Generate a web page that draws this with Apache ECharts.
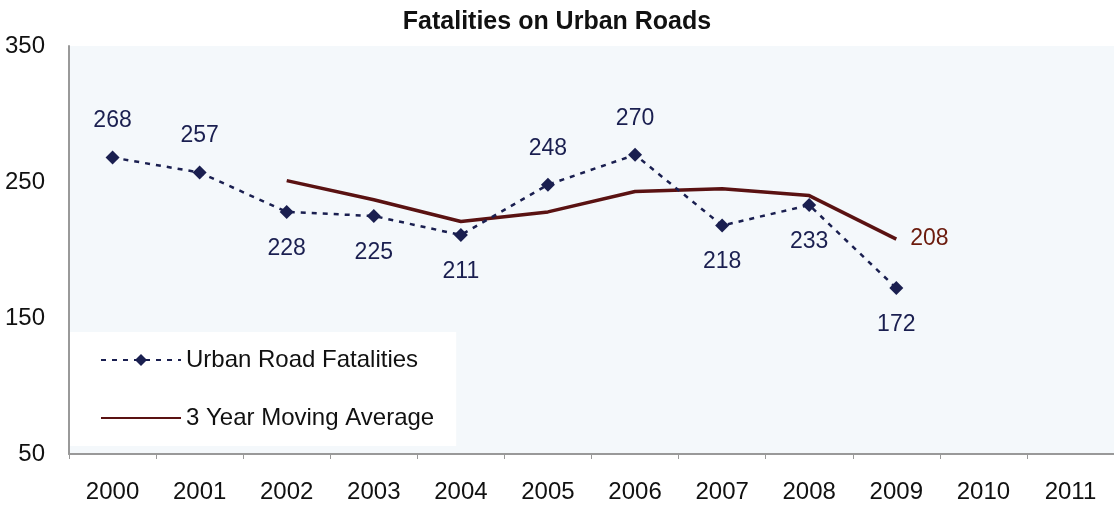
<!DOCTYPE html>
<html>
<head>
<meta charset="utf-8">
<script src="https://cdn.jsdelivr.net/npm/echarts@6/dist/echarts.min.js"></script>
<style>html,body{margin:0;padding:0;background:#fff;}#c{width:1114px;height:506px;}</style>
</head>
<body>
<div id="c"></div>
<script>
const years = ['2000','2001','2002','2003','2004','2005','2006','2007','2008','2009','2010','2011'];
const fatalities = [268, 257, 228, 225, 211, 248, 270, 218, 233, 172, null, null];
const movingAvg = [null, null, 251, 237, 221, 228, 243, 245, 240, 208, null, null];
const labelAbove = ['2000','2001','2005','2006'];
const yTicks = [50, 150, 250, 350];

const chart = echarts.init(document.getElementById('c'));
const navy = '#1a1f50';
const maroon = '#5a1212';
const fatalData = fatalities.map((v, i) => ({
  value: v,
  label: { position: labelAbove.includes(years[i]) ? 'top' : 'bottom' }
}));
const lastAvgIdx = movingAvg.reduce((a, v, i) => v != null ? i : a, -1);
chart.setOption({
  animation: false,
  backgroundColor: '#fff',
  title: {
    text: 'Fatalities on Urban Roads',
    left: 'center', top: 5,
    textStyle: { fontFamily: 'Liberation Sans', fontWeight: 'bold', fontSize: 25, color: '#111' }
  },
  grid: {
    left: 69, top: 46, width: 1056, bottom: 52,
    show: true, backgroundColor: '#f4f8fb', borderWidth: 0
  },
  legend: {
    orient: 'vertical', left: 70, top: 332,
    backgroundColor: '#ffffff',
    padding: [16, 22, 16, 30],
    itemWidth: 80, itemHeight: 15, itemGap: 34,
    textStyle: { fontFamily: 'Liberation Sans', fontSize: 24, color: '#111' },
    data: [
      { name: 'Urban Road Fatalities' },
      { name: '3 Year Moving Average', itemStyle: { color: 'rgba(0,0,0,0)', borderWidth: 0 } }
    ]
  },
  xAxis: {
    type: 'category', data: years, boundaryGap: true,
    axisLine: { lineStyle: { color: '#999', width: 2 } },
    axisTick: { show: true, length: 5, lineStyle: { color: '#999' } },
    axisLabel: { fontFamily: 'Liberation Sans', fontSize: 24, color: '#111', margin: 26 },
    splitLine: { show: false }
  },
  yAxis: {
    type: 'value', min: 50, max: 350, interval: 100,
    axisLine: { show: true, lineStyle: { color: '#999', width: 2 } },
    axisTick: { show: false },
    axisLabel: { fontFamily: 'Liberation Sans', fontSize: 24, color: '#111', margin: 24,
      formatter: v => yTicks.includes(v) ? String(v) : '' },
    splitLine: { show: false }
  },
  series: [
    {
      name: 'Urban Road Fatalities', type: 'line', data: fatalData,
      symbol: 'diamond', symbolSize: 14,
      itemStyle: { color: navy },
      lineStyle: { color: navy, width: 2.5, type: [5, 6] },
      label: { show: true, fontFamily: 'Liberation Sans', fontSize: 23, color: navy, distance: 18 },
      z: 3
    },
    {
      name: '3 Year Moving Average', type: 'line', data: movingAvg,
      symbol: 'none',
      itemStyle: { color: maroon },
      lineStyle: { color: maroon, width: 3.5 },
      markPoint: {
        symbol: 'circle', symbolSize: 0,
        label: { show: true, position: 'right', distance: 14, fontFamily: 'Liberation Sans', fontSize: 23, color: '#6b1a0c',
          formatter: p => String(p.value) },
        data: [{ coord: [years[lastAvgIdx], movingAvg[lastAvgIdx]], value: movingAvg[lastAvgIdx] }]
      },
      z: 2
    }
  ]
});
</script>
</body>
</html>
